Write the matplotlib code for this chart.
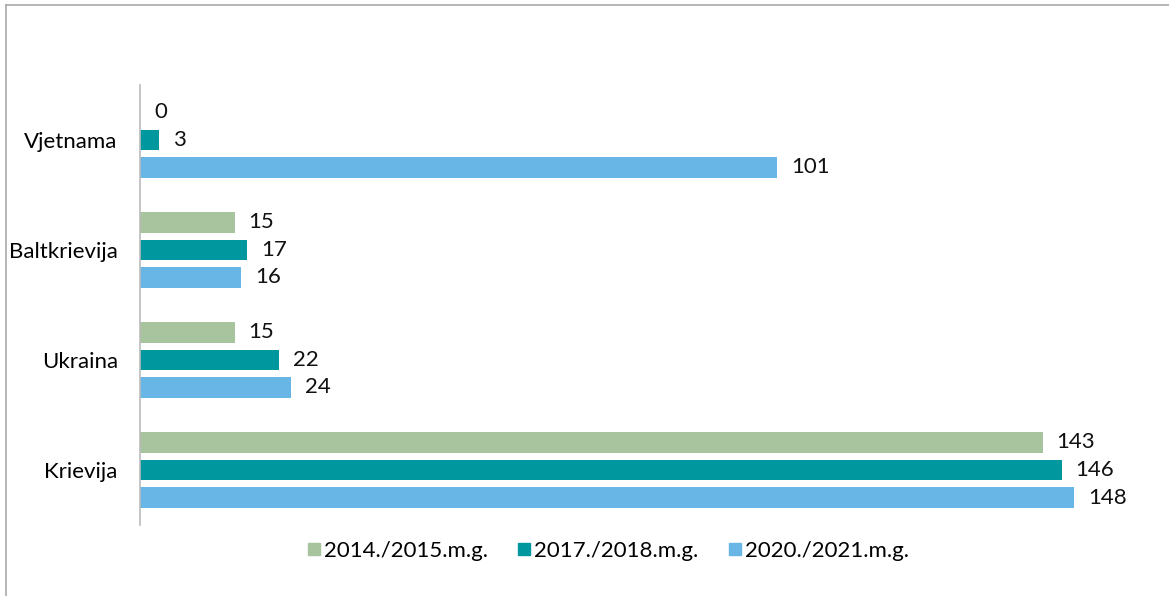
import numpy as np
import matplotlib.pyplot as plt
from matplotlib.lines import Line2D

plt.rcParams['font.family'] = ['Lato', 'DejaVu Sans']

countries = ["Krievija", "Ukraina", "Baltkrievija", "Vjetnama"]
series = ["2014./2015.m.g.", "2017./2018.m.g.", "2020./2021.m.g."]
v2014 = [143, 15, 15, 0]
v2017 = [146, 22, 17, 3]
v2020 = [148, 24, 16, 101]
colors = ["#A8C49E", "#00979F", "#67B6E6"]

W, H = 1169, 596
fig = plt.figure(figsize=(W / 100, H / 100), dpi=100)
ax = fig.add_axes([140 / W, 1 - 525 / H, 1020 / W, 440 / H])

y = np.arange(len(countries))
offsets = [0.25, 0.0, -0.25]
h = 0.182
for vals, off, c in zip([v2014, v2017, v2020], offsets, colors):
    bars = ax.barh(y + off, vals, height=h, color=c)
    for b, v in zip(bars, vals):
        ax.text(v + 2.2, b.get_y() + h / 2, str(v), va='center', ha='left',
                fontsize=16, color='#111111')

ax.set_xlim(0, 161.6)
ax.set_ylim(-0.5, 3.5)
ax.set_yticks(y)
ax.set_yticklabels(countries, fontsize=16)
ax.tick_params(axis='y', length=0, pad=16)
ax.set_xticks([])
for s in ['top', 'right', 'bottom']:
    ax.spines[s].set_visible(False)
ax.spines['left'].set_color('#BBBBBB')
ax.spines['left'].set_linewidth(1.2)

handles = [Line2D([], [], marker='s', linestyle='none', markersize=8,
                  markerfacecolor=c, markeredgecolor=c) for c in colors]
fig.legend(handles, series, loc='center', bbox_to_anchor=(607 / W, 1 - 551 / H),
           ncol=3, frameon=False, fontsize=16, handletextpad=0.05,
           columnspacing=1.25, handlelength=0.8)

# chart-area border (top and left)
fig.add_artist(Line2D([6 / W, 6 / W], [0, 1 - 5 / H], transform=fig.transFigure,
                      color='#AAAAAA', lw=1.2))
fig.add_artist(Line2D([6 / W, 1], [1 - 5 / H, 1 - 5 / H], transform=fig.transFigure,
                      color='#AAAAAA', lw=1.2))

fig.savefig("out.png", dpi=100)
